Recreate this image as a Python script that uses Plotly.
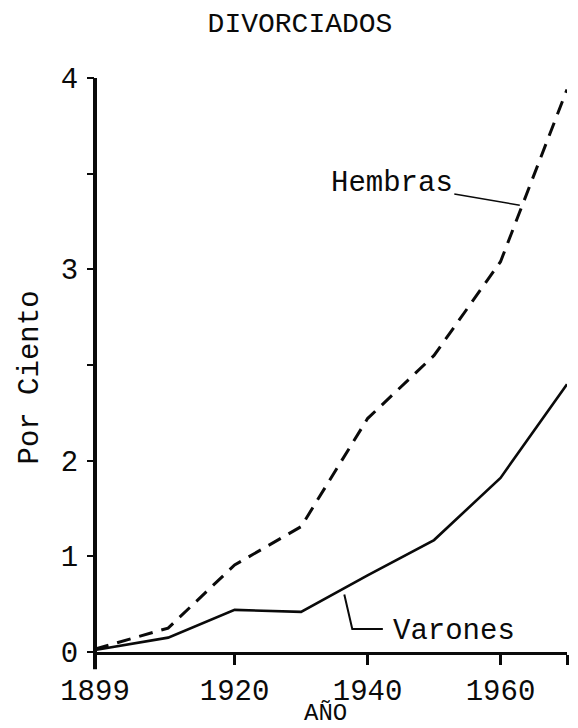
"""Divorciados por sexo, 1899-1970 (recreated scanned chart)."""

import numpy as np
import plotly.graph_objects as go

YEARS = [1899, 1910, 1920, 1930, 1940, 1950, 1960, 1970]
HEMBRAS = [0.03, 0.25, 0.91, 1.31, 2.22, 2.55, 3.04, 3.94]
VARONES = [0.02, 0.15, 0.44, 0.42, 0.80, 1.17, 1.82, 2.40]

X_TICKS = [1899, 1920, 1940, 1960, 1970]
X_LABELS = ["1899", "1920", "1940", "1960", ""]

# the printed axis is not linear: 0,1,2 are one step apart, 2->3 and 3->4 two steps
PCT_STOPS = [0, 1, 2, 3, 4]
POS_STOPS = [0, 1, 2, 4, 6]
Y_TICKS = [0, 1, 2, 3, 4, 5, 6]
Y_LABELS = ["0", "1", "2", "", "3", "", "4"]

INK = "#0a0a0a"
FONT = "Liberation Mono, Courier New, monospace"


def to_axis(values):
    return np.interp(values, PCT_STOPS, POS_STOPS)


fig = go.Figure()
fig.add_trace(go.Scatter(x=YEARS, y=to_axis(HEMBRAS), mode="lines", name="Hembras",
                         customdata=HEMBRAS,
                         line=dict(color=INK, width=3, dash="14px,9px"),
                         hovertemplate="%{x}: %{customdata}%<extra>Hembras</extra>"))
fig.add_trace(go.Scatter(x=YEARS, y=to_axis(VARONES), mode="lines", name="Varones",
                         customdata=VARONES,
                         line=dict(color=INK, width=2.6),
                         hovertemplate="%{x}: %{customdata}%<extra>Varones</extra>"))

# labels with leader lines
fig.add_annotation(x=1962.9, y=4.67, text="Hembras", showarrow=True, arrowhead=0,
                   arrowwidth=1.5, arrowcolor=INK, ax=-128, ay=-22,
                   font=dict(family=FONT, size=29, color=INK))
fig.add_annotation(x=1943.5, y=0.21, text="Varones", showarrow=False, xanchor="left",
                   font=dict(family=FONT, size=29, color=INK))
fig.add_shape(type="path", path="M 1942.3 0.24 L 1937.7 0.24 L 1936.5 0.6",
              line=dict(color=INK, width=2))

# axis titles
fig.add_annotation(xref="paper", yref="paper", x=0, y=0.5, xshift=-84, yshift=-13,
                   text="Por Ciento", textangle=-90, showarrow=False,
                   font=dict(family=FONT, size=29, color=INK))
fig.add_annotation(xref="paper", yref="paper", x=0.5, y=0, xshift=-6, yshift=-61,
                   yanchor="middle", text="AÑO", showarrow=False,
                   font=dict(family=FONT, size=24, color=INK))

# y axis line runs a little below zero in the original
fig.add_shape(type="line", xref="paper", yref="paper", x0=0, x1=0, y0=-0.03, y1=1,
              line=dict(color=INK, width=4))

# page body keeps an 8px margin, so the figure is 8px smaller than the window
fig.update_layout(
    width=570, height=720,
    paper_bgcolor="white", plot_bgcolor="white",
    margin=dict(l=87, r=11, t=70, b=76),
    showlegend=False,
    title=dict(text="DIVORCIADOS", x=292 / 570, xanchor="center",
               y=1 - 14 / 720, yanchor="middle",
               font=dict(family=FONT, size=28, color=INK)),
    xaxis=dict(range=[1899, 1970], tickvals=X_TICKS, ticktext=X_LABELS,
               showgrid=False, zeroline=False, showline=True, linecolor=INK, linewidth=3,
               ticks="outside", ticklen=10, tickwidth=2.5, tickcolor=INK,
               ticklabelstandoff=0,
               tickfont=dict(family=FONT, size=29, color=INK)),
    yaxis=dict(range=[0, 6], tickvals=Y_TICKS, ticktext=Y_LABELS,
               showgrid=False, zeroline=False, showline=False,
               ticks="outside", ticklen=7, tickwidth=2, tickcolor=INK,
               ticklabelstandoff=3,
               tickfont=dict(family=FONT, size=29, color=INK)),
)

fig.write_html("out.html")
